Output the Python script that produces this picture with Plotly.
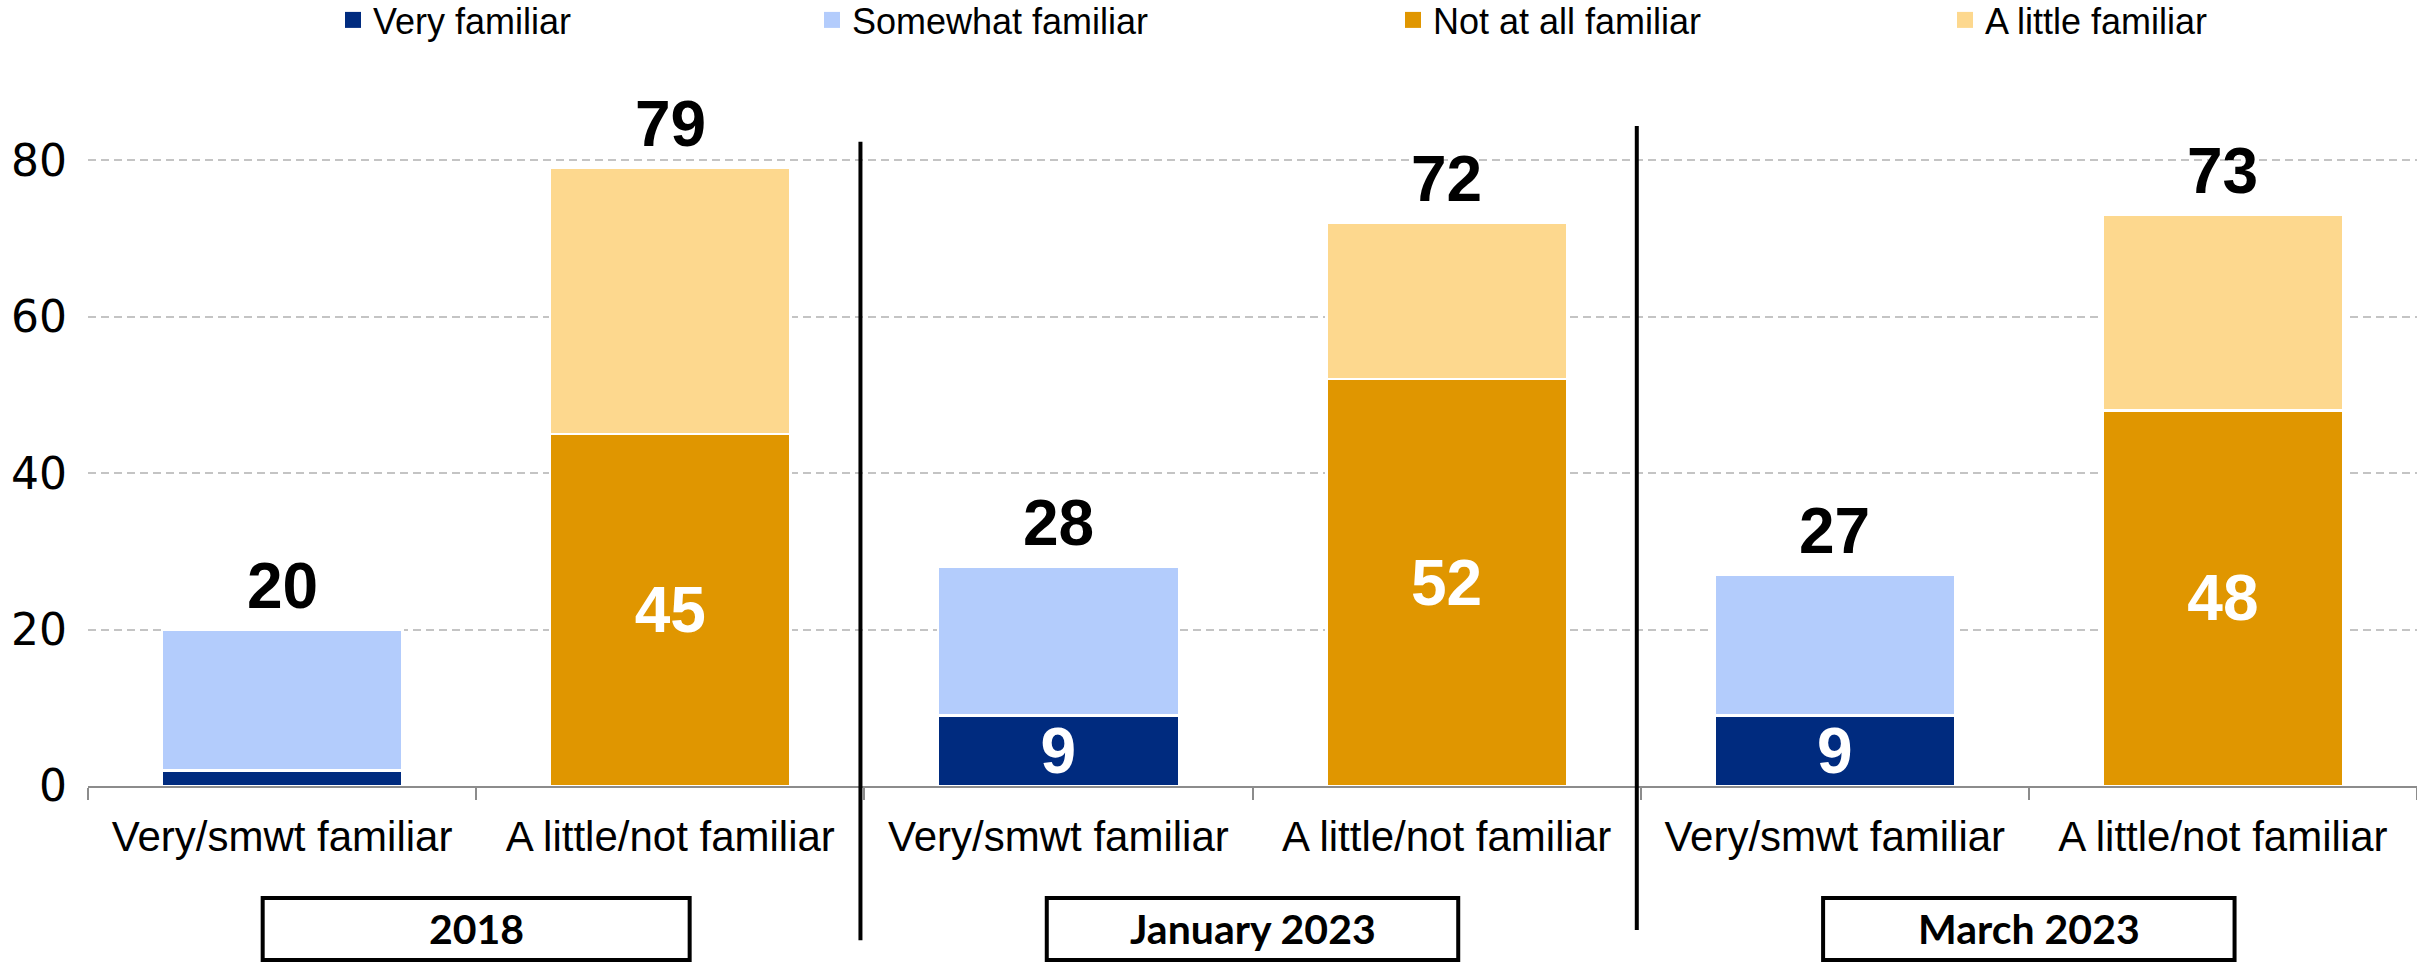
import plotly.graph_objects as go

# ---------------- data ----------------
groups = ["2018", "January 2023", "March 2023"]
bar_labels = ["Very/smwt familiar", "A little/not familiar"]
series_names = ["Very familiar", "Somewhat familiar", "Not at all familiar", "A little familiar"]
very_familiar = [2, 9, 9]
somewhat_familiar = [18, 19, 18]
not_at_all_familiar = [45, 52, 48]
a_little_familiar = [34, 20, 25]
y_ticks = [0, 20, 40, 60, 80]

# ---------------- styles ----------------
C_VERY = "#002B7F"
C_SOME = "#B3CCFC"
C_NOT = "#E09600"
C_LITTLE = "#FDD88E"
series_colors = [C_VERY, C_SOME, C_NOT, C_LITTLE]

W, H = 2417, 979
ML, MR, MT, MB = 88, 0, 82, 193

n = len(groups)
x_fam = [2 * g for g in range(n)]
x_unf = [2 * g + 1 for g in range(n)]
fam_tot = [a + b for a, b in zip(very_familiar, somewhat_familiar)]
unf_tot = [a + b for a, b in zip(not_at_all_familiar, a_little_familiar)]

ARIAL = "Liberation Sans, Arial, sans-serif"
label_font = dict(family=ARIAL, size=64, color="white", weight="bold")
BAR_W = 0.62
line = dict(color="white", width=2.5)


def inside_text(vals, minv=5):
    return [str(v) if v >= minv else "" for v in vals]


fig = go.Figure()
fig.add_trace(go.Bar(x=x_fam, y=very_familiar, marker=dict(color=C_VERY, line=line), width=BAR_W,
                     text=inside_text(very_familiar), textposition="inside", insidetextanchor="middle",
                     textangle=0, textfont=label_font, constraintext="none", showlegend=False,
                     name=series_names[0]))
fig.add_trace(go.Bar(x=x_fam, y=somewhat_familiar, marker=dict(color=C_SOME, line=line), width=BAR_W,
                     showlegend=False, name=series_names[1]))
fig.add_trace(go.Bar(x=x_unf, y=not_at_all_familiar, marker=dict(color=C_NOT, line=line), width=BAR_W,
                     text=inside_text(not_at_all_familiar), textposition="inside", insidetextanchor="middle",
                     textangle=0, textfont=label_font, constraintext="none", showlegend=False,
                     name=series_names[2]))
fig.add_trace(go.Bar(x=x_unf, y=a_little_familiar, marker=dict(color=C_LITTLE, line=line), width=BAR_W,
                     showlegend=False, name=series_names[3]))

# legend-only entries, each in its own legend so positions can match the reference
legend_ids = ["legend", "legend2", "legend3", "legend4"]
for nm, col, lg in zip(series_names, series_colors, legend_ids):
    fig.add_trace(go.Scatter(x=[None], y=[None], mode="markers", name=nm, legend=lg,
                             marker=dict(symbol="square", size=16, color=col)))

# totals above bars
annotations = []
for xs, tots in ((x_fam, fam_tot), (x_unf, unf_tot)):
    for xv, t in zip(xs, tots):
        annotations.append(dict(x=xv, y=t, xref="x", yref="y", text=str(t), showarrow=False,
                                yanchor="bottom", yshift=6,
                                font=dict(family=ARIAL, size=64, color="black", weight="bold")))

# group label boxes
box_half = [0.55, 0.53, 0.53]
BOX_Y0, BOX_Y1 = -0.2472, -0.159
shapes = []
for g, name in enumerate(groups):
    cx = (x_fam[g] + x_unf[g]) / 2
    shapes.append(dict(type="rect", xref="x", yref="paper", x0=cx - box_half[g], x1=cx + box_half[g],
                       y0=BOX_Y0, y1=BOX_Y1, line=dict(color="black", width=4), fillcolor="white"))
    annotations.append(dict(x=cx, y=(BOX_Y0 + BOX_Y1) / 2, xref="x", yref="paper", text=name,
                            showarrow=False, yanchor="middle",
                            font=dict(family="Lato, sans-serif", size=41, color="black", weight="bold")))

# vertical separators between groups
sep_y = [(-0.219, 0.915), (-0.2045, 0.9375)]
for g in range(n - 1):
    xs = x_unf[g] + 0.49
    shapes.append(dict(type="line", xref="x", yref="paper", x0=xs, x1=xs, y0=sep_y[g][0], y1=sep_y[g][1],
                       line=dict(color="black", width=4)))

legend_left_px = [333, 812, 1393, 1945]
legend_common = dict(orientation="h", xref="container", yref="container", xanchor="left",
                     yanchor="middle", y=1 - 20 / H, bgcolor="rgba(0,0,0,0)",
                     font=dict(family=ARIAL, size=36, color="black"))
legend_layout = {}
for lg, px in zip(legend_ids, legend_left_px):
    legend_layout[lg] = dict(legend_common, x=px / W)

fig.update_layout(
    width=W, height=H,
    margin=dict(l=ML, r=MR, t=MT, b=MB, pad=0, autoexpand=False),
    paper_bgcolor="white", plot_bgcolor="white",
    barmode="stack",
    annotations=annotations, shapes=shapes,
    **legend_layout,
)
fig.update_xaxes(
    range=[-0.5, 2 * n - 0.5], tickmode="array", tickvals=list(range(2 * n)),
    ticktext=bar_labels * n, ticks="", showgrid=False, zeroline=False,
    showline=True, linecolor="#8c8c8c", linewidth=2, automargin=False,
    tickfont=dict(family=ARIAL, size=42, color="black"),
    ticklabelstandoff=13,
    minor=dict(tickmode="array", tickvals=[i - 0.5 for i in range(2 * n + 1)], ticks="outside",
               ticklen=12, tickwidth=2, tickcolor="#8c8c8c", showgrid=False),
)
fig.update_yaxes(
    range=[0, 90], tickmode="array", tickvals=y_ticks, showgrid=True, gridcolor="#c4c4c4",
    gridwidth=2, griddash="8px,5px", zeroline=False, showline=False, ticks="", automargin=False,
    tickfont=dict(family="DejaVu Sans", size=44, color="black"),
    ticklabelstandoff=20,
)

fig.write_html("out.html", config={"displayModeBar": False},
               post_script="document.body.style.margin='0';document.body.style.overflow='hidden';")
